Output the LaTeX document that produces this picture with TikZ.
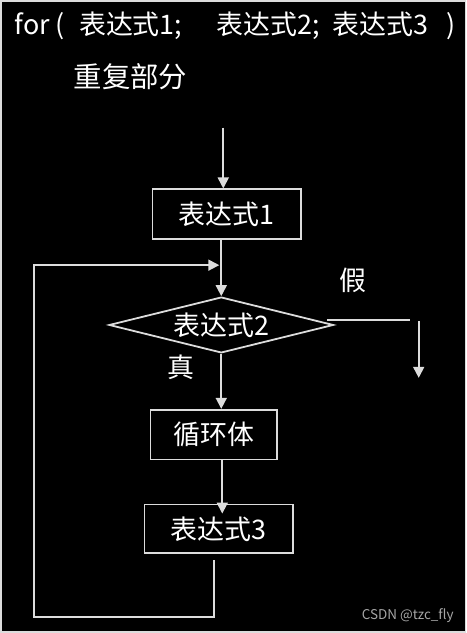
\documentclass[tikz,border=0pt]{standalone}
\usepackage{fontspec}
\setmainfont{Noto Sans CJK SC}
\usetikzlibrary{arrows.meta,shapes.geometric,calc}
\definecolor{ln}{HTML}{DCDCDC}
\begin{document}
\begin{tikzpicture}[x=1pt,y=-1pt,
  line width=1.8pt,
  every path/.style={draw=ln},
  arr/.style={-{Triangle[length=11pt,width=11pt]}},
  procbox/.style={draw=ln,rectangle,inner sep=0pt,text=white,font=\fontsize{27}{29}\selectfont},
  lbl/.style={text=white,inner sep=0pt,font=\fontsize{27}{29}\selectfont}]
\fill[black] (0,0) rectangle (466,633);
\useasboundingbox (0,0) rectangle (466,633);
% title
\node[lbl,anchor=base west] (title) at (13,34) {for (\hspace{8pt} 表达式1;\ \ \ \hspace{16pt}表达式2;\hspace{7pt} 表达式3\hspace{12pt} )};
\node[lbl,anchor=base west,font=\fontsize{28.5}{30}\selectfont] (rep) at (72,87) {重复部分};
% nodes
\node[procbox,minimum width=149pt,minimum height=50pt] (b1) at (226.5,214) {表达式1};
\node[draw=ln,diamond,aspect=4,inner sep=0pt,minimum width=225pt,minimum height=56pt,text=white,font=\fontsize{27}{29}\selectfont] (d) at (221,325) {表达式2};
\node[procbox,minimum width=127pt,minimum height=50pt] (b2) at (213.5,435) {循环体};
\node[procbox,minimum width=149pt,minimum height=49pt] (b3) at (218.5,529.5) {表达式3};
\node[lbl] (t) at (181,367) {真};
\node[lbl] (f) at (353,280) {假};
\node[text=gray!70,inner sep=0pt,font=\fontsize{13.5}{14}\selectfont] (wm) at (408,616) {CSDN @tzc\_fly};
% coordinates
\coordinate (s0) at (223,127);
\coordinate (l0) at (214,561);
\coordinate (l1) at (214,618);
\coordinate (l2) at (33,618);
\coordinate (l3) at (33,265);
\coordinate (l4) at (219,265);
\coordinate (f0) at (327,320);
\coordinate (f1) at (410,320);
\coordinate (f2) at (419,321);
\coordinate (f3) at (419,378);
% connectors
\draw[arr] (s0) -- (s0 |- b1.north);
\draw[arr] (d.north |- b1.south) -- (d.north);
\draw[arr] (d.south) -- (d.south |- b2.north);
\draw[arr] ($(d.south |- b2.south)+(1,0)$) -- ($(d.south |- b3.north)+(1,10)$);
\draw[arr] (l0) -- (l1) -- (l2) -- (l3) -- (l4);
\draw (f0) -- (f1);
\draw[arr] (f2) -- (f3);
\end{tikzpicture}
\end{document}
